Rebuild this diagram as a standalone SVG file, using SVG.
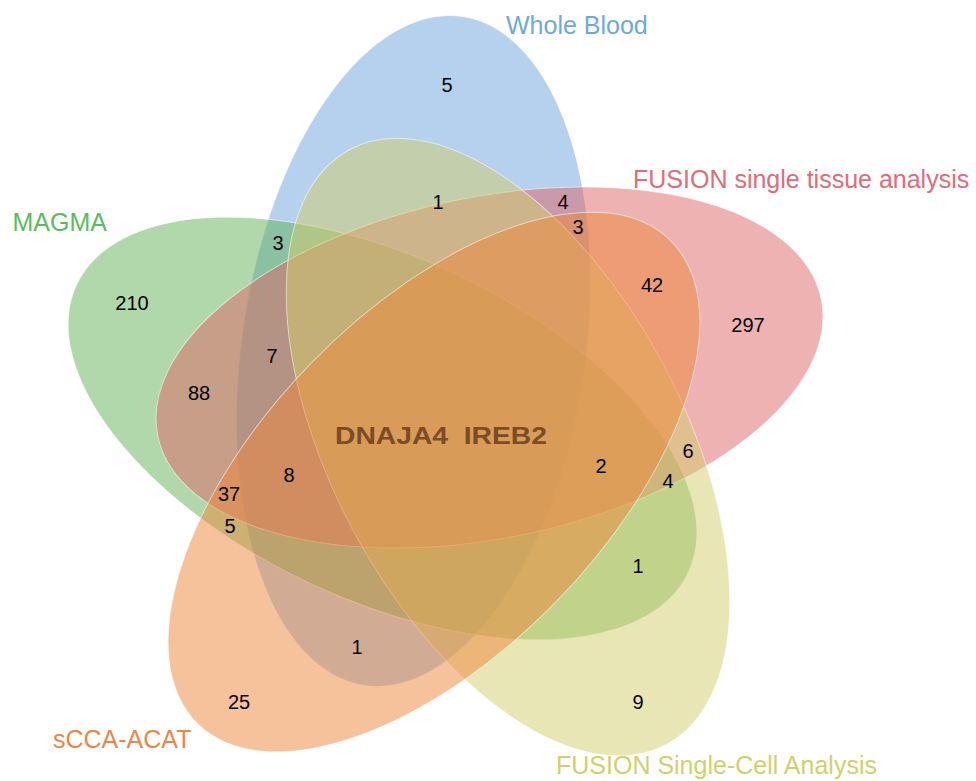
<svg xmlns="http://www.w3.org/2000/svg" width="976" height="781" viewBox="0 0 976 781">
<style>
.set{fill-opacity:0.5;stroke:#ffffff;stroke-opacity:0.55;stroke-width:1}
.n{font-family:"Liberation Sans",Arial,sans-serif;font-size:20px;fill:#000;text-anchor:middle}
.lab{font-family:"Liberation Sans",Arial,sans-serif;font-size:25px}
</style>
<rect width="976" height="781" fill="#ffffff"/>
<g id="sets">
<ellipse id="whole-blood" class="set" cx="413.5" cy="351" rx="172" ry="338" transform="rotate(8.3 413.5 351)" fill="#6ba3dd"/>
<ellipse id="magma" class="set" cx="382.5" cy="428.5" rx="338" ry="171" transform="rotate(25.2 382.5 428.5)" fill="#61b155"/>
<ellipse id="fusion-tissue" class="set" cx="489.5" cy="367.5" rx="338.7" ry="170.5" transform="rotate(-11.7 489.5 367.5)" fill="#dd6565"/>
<ellipse id="fusion-cell" class="set" cx="508" cy="447" rx="337" ry="176" transform="rotate(62 508 447)" fill="#d1cd69"/>
<ellipse id="scca-acat" class="set" cx="434" cy="482" rx="338" ry="171" transform="rotate(-45.7 434 482)" fill="#ed8539"/>
</g>
<g id="labels">
<text class="lab" x="506" y="34" fill="#6ea9dd">Whole Blood</text>
<text class="lab" x="633" y="188" fill="#e06c78">FUSION single tissue analysis</text>
<text class="lab" x="12.5" y="231" fill="#5dba5d">MAGMA</text>
<text class="lab" x="53" y="748" fill="#e8874a">sCCA-ACAT</text>
<text class="lab" x="556" y="774" fill="#d4cf6e">FUSION Single-Cell Analysis</text>
</g>
<g id="counts">
<text class="n" x="447" y="92">5</text>
<text class="n" x="563" y="209">4</text>
<text class="n" x="578" y="234">3</text>
<text class="n" x="438" y="209">1</text>
<text class="n" x="278" y="250">3</text>
<text class="n" x="652" y="292">42</text>
<text class="n" x="748" y="332">297</text>
<text class="n" x="132" y="310">210</text>
<text class="n" x="272" y="363">7</text>
<text class="n" x="199" y="400">88</text>
<text class="n" x="601" y="473">2</text>
<text class="n" x="688" y="458">6</text>
<text class="n" x="668" y="488">4</text>
<text class="n" x="289" y="482">8</text>
<text class="n" x="229" y="501">37</text>
<text class="n" x="230" y="533">5</text>
<text class="n" x="638" y="573">1</text>
<text class="n" x="357" y="654">1</text>
<text class="n" x="239" y="709">25</text>
<text class="n" x="638" y="709">9</text>
</g>
<g id="center">
<text x="335" y="444" textLength="212" lengthAdjust="spacingAndGlyphs" style="font-family:'Liberation Sans',Arial,sans-serif;font-size:24.5px;font-weight:bold" fill="#7b4c26">DNAJA4&#160;&#160;IREB2</text>
</g>
</svg>
